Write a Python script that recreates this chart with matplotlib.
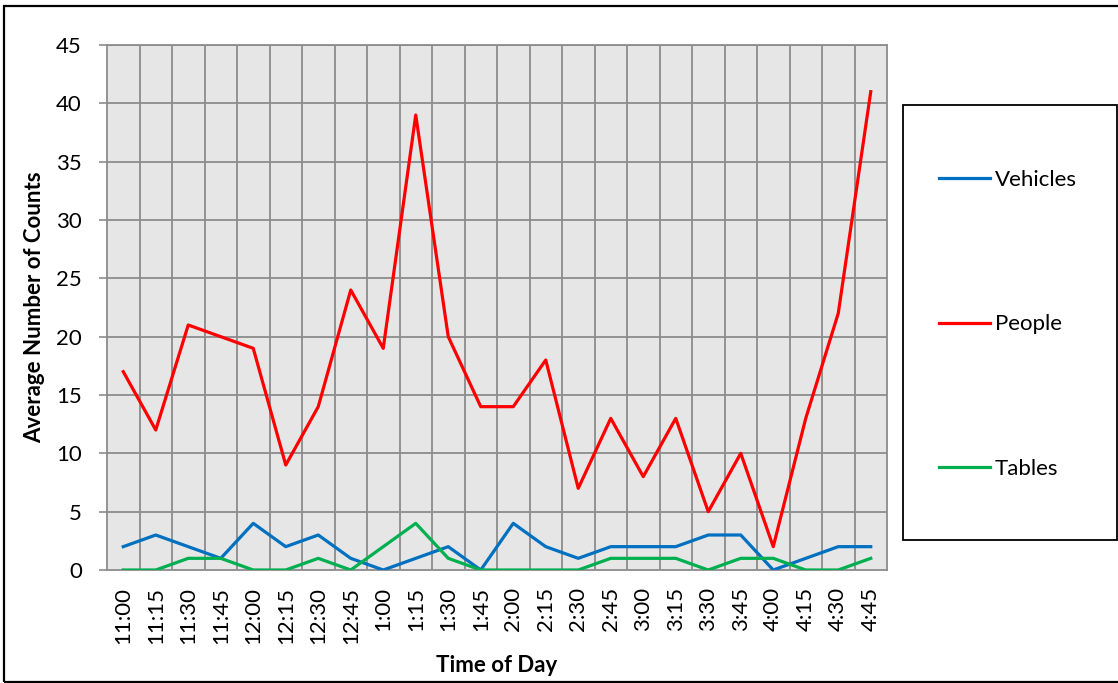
import matplotlib.pyplot as plt
from matplotlib.patches import Rectangle

# time slots and average counts
times = ['11:00', '11:15', '11:30', '11:45', '12:00', '12:15', '12:30', '12:45',
         '1:00', '1:15', '1:30', '1:45', '2:00', '2:15', '2:30', '2:45',
         '3:00', '3:15', '3:30', '3:45', '4:00', '4:15', '4:30', '4:45']
vehicles = [2, 3, 2, 1, 4, 2, 3, 1, 0, 1, 2, 0, 4, 2, 1, 2, 2, 2, 3, 3, 0, 1, 2, 2]
people = [17, 12, 21, 20, 19, 9, 14, 24, 19, 39, 20, 14, 14, 18, 7, 13, 8, 13, 5, 10, 2, 13, 22, 41]
tables = [0, 0, 1, 1, 0, 0, 1, 0, 2, 4, 1, 0, 0, 0, 0, 1, 1, 1, 0, 1, 1, 0, 0, 1]

plt.rcParams['font.family'] = ['Lato', 'DejaVu Sans']
W, H = 1118, 683

fig = plt.figure(figsize=(W / 100, H / 100), dpi=100)
ax = fig.add_axes([107 / W, 113 / H, 780 / W, 525 / H])
ax.set_facecolor('#E6E6E6')

x = list(range(len(times)))
ax.plot(x, vehicles, color='#0070C0', lw=2.3, label='Vehicles', zorder=3)
ax.plot(x, people, color='#FF0000', lw=2.3, label='People', zorder=3)
ax.plot(x, tables, color='#00B050', lw=2.3, label='Tables', zorder=3)

ax.set_xlim(-0.5, len(times) - 0.5)
ax.set_ylim(0, 45)
ax.set_yticks(range(0, 46, 5))
ax.set_xticks(x)
ax.set_xticklabels(times, rotation=90, fontsize=16)
ax.tick_params(axis='y', labelsize=16, length=6, color='#8C8C8C', width=1.2, pad=12)
ax.tick_params(axis='x', length=0, pad=12)

# gridlines between categories
for k in range(len(times) - 1):
    ax.axvline(k + 0.5, color='#8C8C8C', lw=1.3, zorder=1)
for v in range(5, 46, 5):
    ax.axhline(v, color='#8C8C8C', lw=1.3, zorder=1)
for s in ax.spines.values():
    s.set_color('#8C8C8C')
    s.set_linewidth(1.3)

ax.set_xlabel('Time of Day', fontsize=16, fontweight='bold', labelpad=8)
ax.set_ylabel('Average Number of Counts', fontsize=16, fontweight='bold', labelpad=8)

# legend box
fig.patches.append(Rectangle((903 / W, 143 / H), 214 / W, 435 / H,
                             transform=fig.transFigure, fill=False,
                             edgecolor='black', lw=1.3))
fig.legend(loc='upper left', bbox_to_anchor=(919 / W, 1 - 150 / H),
           frameon=False, fontsize=16, labelspacing=5.6, handlelength=2.3,
           handletextpad=0.2)

# outer frame
fig.patches.append(Rectangle((4 / W, 1 / H), 1120 / W, 676 / H,
                             transform=fig.transFigure, fill=False,
                             edgecolor='black', lw=1.6))

fig.savefig('out.png', dpi=100)
